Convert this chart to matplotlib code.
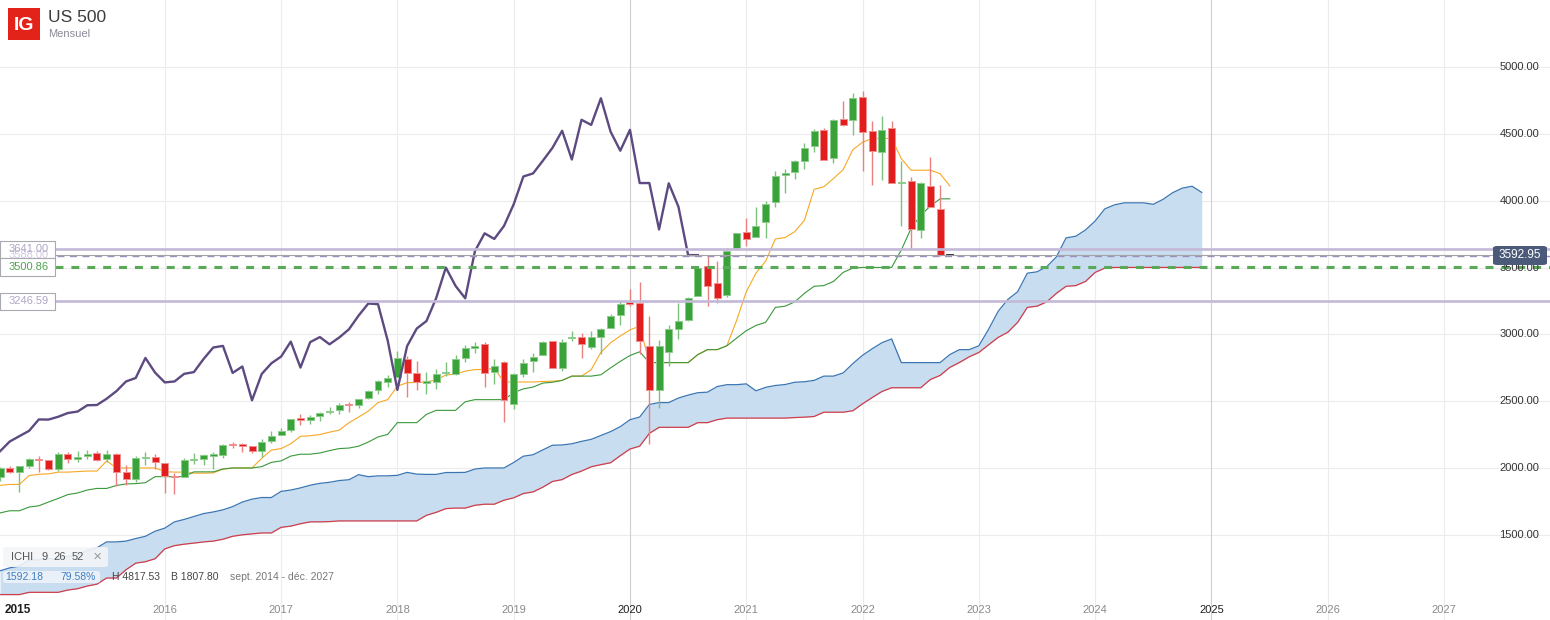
import numpy as np
import pandas as pd
import matplotlib.pyplot as plt
from matplotlib.patches import Rectangle, FancyBboxPatch
import matplotlib.transforms as mtransforms

plt.rcParams['font.family'] = ['Liberation Sans', 'DejaVu Sans']

# US 500 monthly candles, Aug 2014 - Oct 2022
opens = [1930, 2004, 1971, 2018, 2065,
         2059, 1996, 2105, 2067, 2087, 2111, 2067, 2105, 1970, 1919, 2077, 2082,
         2039, 1937, 1937, 2057, 2068, 2094, 2099, 2173, 2171, 2164, 2128, 2201,
         2251, 2285, 2368, 2363, 2388, 2416, 2431, 2477, 2475, 2521, 2583, 2645,
         2684, 2817, 2715, 2634, 2643, 2713, 2705, 2821, 2897, 2926, 2718, 2790,
         2476, 2702, 2798, 2848, 2952, 2751, 2971, 2981, 2909, 2983, 3050, 3144,
         3244, 3236, 2910, 2585, 2869, 3038, 3105, 3289, 3508, 3385, 3296, 3645,
         3764, 3732, 3842, 3992, 4191, 4216, 4300, 4407, 4528, 4317, 4610, 4602,
         4778, 4519, 4363, 4540, 4130, 4149, 3782, 4113, 3937, 3593]
highs = [2005, 2019, 2018, 2075, 2093,
         2064, 2120, 2117, 2126, 2135, 2130, 2133, 2113, 2021, 2094, 2117, 2105,
         2039, 1963, 2073, 2111, 2103, 2121, 2178, 2194, 2188, 2169, 2214, 2278,
         2301, 2371, 2401, 2398, 2418, 2454, 2484, 2491, 2519, 2582, 2658, 2695,
         2873, 2835, 2801, 2718, 2742, 2791, 2848, 2917, 2941, 2940, 2815, 2800,
         2708, 2813, 2860, 2949, 2954, 2964, 3028, 3014, 3022, 3050, 3154, 3248,
         3338, 3394, 3137, 2955, 3068, 3233, 3280, 3514, 3588, 3550, 3646, 3760,
         3871, 3950, 3995, 4219, 4238, 4302, 4430, 4537, 4546, 4608, 4743, 4808,
         4818, 4595, 4637, 4593, 4300, 4178, 4141, 4325, 4119, 3597]
lows = [1905, 1965, 1821, 2001, 1972,
        1988, 1981, 2040, 2048, 2067, 2056, 2044, 1867, 1872, 1893, 2020, 1993,
        1812, 1808, 1932, 2034, 2025, 1992, 2075, 2147, 2120, 2115, 2084, 2187,
        2245, 2271, 2322, 2329, 2353, 2405, 2407, 2417, 2446, 2520, 2557, 2605,
        2683, 2533, 2586, 2553, 2594, 2691, 2699, 2796, 2864, 2604, 2631, 2347,
        2444, 2681, 2722, 2848, 2750, 2729, 2952, 2822, 2891, 2855, 3050, 3070,
        3215, 2855, 2184, 2447, 2767, 2966, 3101, 3284, 3210, 3234, 3279, 3633,
        3662, 3725, 3723, 3955, 4056, 4165, 4234, 4367, 4306, 4279, 4560, 4495,
        4222, 4115, 4157, 4129, 3811, 3637, 3721, 3954, 3585, 3588]
closes = [2003, 1972, 2018, 2068, 2059,
          1995, 2105, 2068, 2086, 2107, 2063, 2104, 1972, 1920, 2079, 2080, 2044,
          1940, 1932, 2060, 2065, 2097, 2099, 2174, 2171, 2168, 2126, 2199, 2239,
          2279, 2364, 2363, 2384, 2412, 2423, 2470, 2472, 2519, 2575, 2648, 2674,
          2824, 2714, 2641, 2648, 2705, 2718, 2816, 2902, 2914, 2712, 2760, 2507,
          2704, 2784, 2834, 2946, 2752, 2942, 2980, 2926, 2977, 3038, 3141, 3231,
          3226, 2954, 2585, 2912, 3044, 3100, 3271, 3500, 3363, 3270, 3622, 3756,
          3714, 3811, 3973, 4181, 4204, 4298, 4395, 4523, 4308, 4605, 4567, 4766,
          4516, 4374, 4530, 4132, 4132, 3785, 4130, 3955, 3593, 3593]

# ICHI 9 26 52 lines, same months as the candles
tenkan = [1871, 1878, 1878, 1944, 1954, 1957, 1970, 1970, 1974, 1978,
          1978, 2054, 2001, 2001, 2001, 2001, 2001, 1974, 1970, 1970,
          1962, 1962, 1964, 1993, 2001, 2001, 2001, 2073, 2135, 2146,
          2182, 2238, 2242, 2251, 2269, 2284, 2339, 2382, 2426, 2490,
          2512, 2613, 2639, 2640, 2645, 2660, 2696, 2703, 2725, 2737,
          2737, 2747, 2644, 2644, 2644, 2644, 2648, 2650, 2656, 2688,
          2688, 2736, 2866, 2938, 2988, 3034, 3062, 2789, 2789, 2789,
          2789, 2789, 2849, 2886, 2886, 2915, 3104, 3319, 3458, 3548,
          3714, 3724, 3768, 3854, 4085, 4104, 4166, 4233, 4382, 4437,
          4466, 4466, 4466, 4314, 4228, 4228, 4228, 4202, 4111]
kijun = [1665, 1681, 1681, 1709, 1718, 1746, 1773, 1802, 1814, 1836,
         1848, 1848, 1870, 1882, 1884, 1891, 1936, 1936, 1936, 1936,
         1972, 1972, 1972, 1993, 2001, 2001, 2001, 2011, 2043, 2054,
         2090, 2104, 2104, 2113, 2131, 2146, 2150, 2164, 2195, 2233,
         2252, 2340, 2340, 2340, 2402, 2432, 2432, 2432, 2496, 2512,
         2512, 2512, 2512, 2564, 2593, 2606, 2636, 2642, 2656, 2688,
         2688, 2688, 2698, 2750, 2798, 2842, 2870, 2789, 2789, 2789,
         2789, 2789, 2849, 2886, 2886, 2915, 2972, 3028, 3067, 3090,
         3202, 3211, 3243, 3307, 3360, 3365, 3396, 3464, 3496, 3501,
         3501, 3501, 3501, 3632, 3792, 3892, 3960, 4014, 4014]

# cloud edges, Aug 2014 - Dec 2024 (26 months ahead of the last candle)
span_a = [1232, 1254, 1267, 1312, 1314, 1323, 1323, 1340, 1350, 1385,
          1404, 1448, 1448, 1454, 1473, 1490, 1528, 1551, 1598, 1616,
          1638, 1660, 1672, 1688, 1712, 1746, 1768, 1780, 1780, 1826,
          1836, 1852, 1872, 1886, 1894, 1907, 1913, 1951, 1936, 1942,
          1942, 1946, 1968, 1955, 1953, 1953, 1967, 1967, 1968, 1993,
          2001, 2001, 2001, 2042, 2089, 2100, 2136, 2171, 2173, 2182,
          2200, 2215, 2244, 2273, 2310, 2362, 2382, 2476, 2490, 2490,
          2524, 2546, 2564, 2568, 2610, 2624, 2624, 2630, 2578, 2604,
          2618, 2625, 2642, 2646, 2656, 2688, 2688, 2712, 2782, 2844,
          2893, 2938, 2966, 2789, 2789, 2789, 2789, 2789, 2849, 2886,
          2886, 2915, 3038, 3174, 3262, 3319, 3458, 3468, 3506, 3580,
          3722, 3734, 3781, 3848, 3939, 3969, 3984, 3984, 3984, 3973,
          4010, 4060, 4094, 4108, 4062]
span_b = [1054, 1054, 1054, 1071, 1071, 1071, 1071, 1088, 1098, 1118,
          1132, 1178, 1178, 1240, 1289, 1300, 1322, 1396, 1420, 1431,
          1439, 1448, 1454, 1468, 1490, 1501, 1508, 1515, 1515, 1557,
          1566, 1584, 1598, 1598, 1600, 1605, 1605, 1605, 1605, 1605,
          1605, 1605, 1605, 1605, 1647, 1669, 1697, 1701, 1701, 1722,
          1730, 1730, 1760, 1778, 1810, 1822, 1857, 1900, 1914, 1952,
          1978, 2010, 2026, 2040, 2093, 2143, 2164, 2260, 2305, 2305,
          2305, 2305, 2340, 2340, 2362, 2374, 2374, 2374, 2374, 2374,
          2374, 2374, 2378, 2381, 2386, 2418, 2418, 2418, 2429, 2481,
          2528, 2573, 2601, 2601, 2601, 2601, 2663, 2693, 2753, 2790,
          2832, 2865, 2922, 2978, 3017, 3090, 3202, 3211, 3243, 3307,
          3360, 3365, 3396, 3464, 3496, 3501, 3501, 3501, 3501, 3501,
          3501, 3501, 3501, 3501, 3501]
lag = 26

# drawn levels
level_lines = [3641.00, 3588.00, 3500.86, 3246.59]
last_price = 3592.95

y_ticks = [1500, 2000, 2500, 3000, 3500, 4000, 4500, 5000]
years = list(range(2016, 2028))

months = pd.date_range('2014-08-01', periods=len(closes), freq='MS')
t = np.array([d.year + (d.month - 1) / 12 for d in months])
months_fwd = pd.date_range('2014-08-01', periods=len(span_a), freq='MS')
t_fwd = np.array([d.year + (d.month - 1) / 12 for d in months_fwd])

W, Hpx = 1550, 620
fig = plt.figure(figsize=(15.5, 6.2), dpi=100)
ax = fig.add_axes([0, 0, 1, 1])
ax.set_xlim(2014.583, 2027.911)
ax.set_ylim(864, 5501)
ax.axis('off')


def fx(x):
    return x / W


def fy(y):
    return 1 - y / Hpx


# grid
for v in y_ticks:
    ax.axhline(v, color='#ececec', lw=0.8, zorder=0)
for yr in years:
    ax.axvline(yr, color='#cfcfcf' if yr % 5 == 0 else '#ececec', lw=0.8, zorder=0)

# cloud + lines
ax.fill_between(t_fwd, span_a, span_b, color='#c9ddf0', lw=0, zorder=1)
ax.plot(t_fwd, span_a, color='#3b76b3', lw=0.9, zorder=2)
ax.plot(t_fwd, span_b, color='#cf3d4a', lw=0.9, zorder=2)
ax.plot(t, tenkan, color='#f7a823', lw=0.8, zorder=3)
ax.plot(t, kijun, color='#3a983a', lw=0.8, zorder=3)

# candles
bw = 0.06
for i in range(len(closes)):
    o, h, l, c = opens[i], highs[i], lows[i], closes[i]
    if c > o:
        body, edge, wick = '#39a339', '#8ccc8c', '#7cc27c'
    elif c < o:
        body, edge, wick = '#e21d1d', '#f09090', '#ec7f7f'
    else:
        body, edge, wick = '#2f3440', '#2f3440', '#2f3440'
    ax.vlines(t[i], l, h, color=wick, lw=1.0, zorder=4)
    ax.bar(t[i], max(abs(c - o), 9), bottom=min(o, c), width=bw, color=body,
           edgecolor=edge, linewidth=0.7, zorder=5)

# lagging line = closes moved 26 months back
ax.plot(t[:-lag], closes[lag:], color='#5c4a80', lw=1.7, zorder=6)

# horizontal levels
x0 = 55 / W
ax.axhline(level_lines[0], xmin=x0, color='#c3b8d7', lw=1.9, zorder=7)
ax.axhline(level_lines[1], xmin=57 / W, color='#9d8fbd', lw=1.0, dashes=(5, 4), zorder=7)
ax.axhline(last_price, xmin=x0, xmax=1492 / W, color='#a3a3a8', lw=0.8, zorder=7)
ax.axhline(level_lines[2], xmin=x0, color='#58aa58', lw=2.2, dashes=(2.6, 2.6), zorder=7)
ax.axhline(level_lines[3], xmin=x0, color='#c3b8d7', lw=1.9, zorder=7)

# price axis labels (inside the plot, right side)
yt = mtransforms.blended_transform_factory(ax.transAxes, ax.transData)
for v in y_ticks:
    ax.text(1539 / W, v, f'{v:.2f}', transform=yt, ha='right', va='center',
            fontsize=8, color='#333333', zorder=9)

# year labels
xt = mtransforms.blended_transform_factory(ax.transData, ax.transAxes)
for yr in years:
    ax.text(yr, fy(610), str(yr), transform=xt, ha='center', va='center',
            fontsize=8, color='#1e1e1e' if yr % 5 == 0 else '#8a8a8a')
fig.text(fx(5), fy(610), '2015', ha='left', va='center', fontsize=8.5,
         color='#1e1e1e', fontweight='bold')


def box(x1, y1, x2, y2, face, edge=None, rounded=False, alpha=1.0):
    if rounded:
        p = FancyBboxPatch((fx(x1), fy(y2)), fx(x2 - x1), (y2 - y1) / Hpx,
                           boxstyle='round,pad=0,rounding_size=0.003',
                           transform=fig.transFigure, facecolor=face,
                           edgecolor=edge or 'none', lw=0.8, alpha=alpha, zorder=10)
    else:
        p = Rectangle((fx(x1), fy(y2)), fx(x2 - x1), (y2 - y1) / Hpx,
                      transform=fig.transFigure, facecolor=face,
                      edgecolor=edge or 'none', lw=0.8, alpha=alpha, zorder=10)
    fig.patches.append(p)


def label(x, y, s, **kw):
    kw.setdefault('va', 'center')
    kw.setdefault('zorder', 12)
    fig.text(fx(x), fy(y), s, **kw)


# level tags at the left
box(0, 241, 55, 258, 'white', '#a9a9b2')
label(9, 255, f'{level_lines[1]:.2f}', fontsize=8, color='#d2cbe0', zorder=11)
label(9, 248.5, f'{level_lines[0]:.2f}', fontsize=8, color='#b1a6c7')
box(0, 258, 55, 276, 'white', '#a9a9b2')
label(9, 267.5, f'{level_lines[2]:.2f}', fontsize=8, color='#4ea44e')
box(0, 293, 55, 310, 'white', '#a9a9b2')
label(9, 301.5, f'{level_lines[3]:.2f}', fontsize=8, color='#b1a6c7')

# last price tag
box(1493, 246, 1547, 265, '#4a5a78', rounded=True)
label(1520, 255.5, f'{last_price:.2f}', fontsize=8.5, color='white', ha='center')

# header
box(8, 8, 40, 40, '#e2231a')
label(24, 25, 'IG', fontsize=14, color='white', fontweight='bold', ha='center')
label(48, 17, 'US 500', fontsize=12.5, color='#3c3c3c')
label(48, 34, 'Mensuel', fontsize=8, color='#8a8a96')

# indicator legend
box(3, 547, 108, 567, '#f3f5f8', rounded=True, alpha=0.9)
for x, s in [(11, 'ICHI'), (41, '9'), (53, '26'), (72, '52')]:
    label(x, 557, s, fontsize=8, color='#555555')
label(93, 557, '✕', fontsize=8, color='#9a9a9a', family=['DejaVu Sans'])
box(3, 571, 100, 583, '#eef3fa', rounded=True, alpha=0.9)
for x, s, col in [(5, '1592.18', '#3b7dc4'), (60, '79.58%', '#3b7dc4'),
                  (112, 'H 4817.53', '#444444'), (171, 'B 1807.80', '#444444'),
                  (230, 'sept. 2014 - déc. 2027', '#777777')]:
    label(x, 577, s, fontsize=7.5, color=col)

fig.savefig('out.png', dpi=100)
